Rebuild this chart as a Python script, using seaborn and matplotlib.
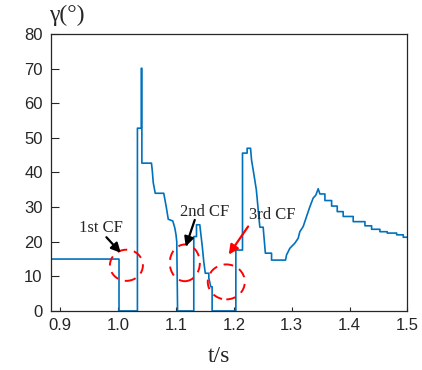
import matplotlib
matplotlib.use("Agg")
import matplotlib.pyplot as plt
from matplotlib.patches import Ellipse
import seaborn as sns

# gamma angle trace (t in s, gamma in degrees)
t = [0.88, 1.0015, 1.0015, 1.0333, 1.0333, 1.0399, 1.0399, 1.0410, 1.0410,
     1.0576, 1.0590, 1.0607, 1.0641, 1.0788, 1.0810, 1.0832, 1.0866, 1.0944,
     1.0979, 1.1000, 1.1013, 1.1027, 1.1307, 1.1307, 1.1354, 1.1354, 1.1411,
     1.1454, 1.1480, 1.1506, 1.1567, 1.1567, 1.1601, 1.1624, 1.1624, 1.2034,
     1.2034, 1.2149, 1.2149, 1.2229, 1.2229, 1.2288, 1.2305, 1.2333, 1.2388,
     1.2431, 1.2449, 1.2506, 1.2544, 1.2651, 1.2651, 1.2893, 1.2910, 1.2967,
     1.3054, 1.3111, 1.3140, 1.3198, 1.3256, 1.3313, 1.3370, 1.3417, 1.3457,
     1.3486, 1.3573, 1.3573, 1.3689, 1.3689, 1.3786, 1.3786, 1.3889, 1.3889,
     1.4062, 1.4062, 1.4265, 1.4265, 1.4380, 1.4380, 1.4524, 1.4524, 1.4650,
     1.4650, 1.4813, 1.4813, 1.4927, 1.4927, 1.5]
gamma = [15.0, 15.0, 0.0, 0.0, 52.8, 52.8, 70.1, 70.1, 42.7,
         42.7, 40.5, 37.0, 34.0, 34.0, 32.0, 30.0, 26.5, 26.0,
         24.0, 22.0, 20.0, 0.0, 0.0, 21.5, 21.5, 24.9, 24.9,
         18.6, 14.2, 10.9, 10.9, 9.5, 7.0, 7.0, 0.0, 0.0,
         17.6, 17.6, 45.6, 45.6, 47.0, 47.0, 43.6, 40.8, 35.0,
         27.3, 24.2, 24.2, 16.7, 16.7, 14.7, 14.7, 16.2, 18.1,
         19.6, 21.0, 22.9, 24.4, 27.3, 30.1, 32.6, 33.5, 35.3,
         33.8, 33.8, 31.9, 31.9, 30.3, 30.3, 28.7, 28.7, 27.3,
         27.3, 25.8, 25.8, 24.6, 24.6, 23.6, 23.6, 22.9, 22.9,
         22.5, 22.5, 22.0, 22.0, 21.3, 21.3]

# commutation failure markers: label, text pos, arrow tail, arrow head, circle (center, w, h), colour
cf_labels = ["1st CF", "2nd CF", "3rd CF"]
cf_text_xy = [(0.970, 24.0), (1.1498, 28.6), (1.2665, 27.7)]
cf_arrow_from = [(0.9797, 21.3), (1.1324, 26.3), (1.2246, 24.4)]
cf_arrow_to = [(1.0045, 16.8), (1.1168, 18.6), (1.1912, 16.3)]
cf_circle_xy = [(1.0143, 13.2), (1.1152, 13.9), (1.1869, 8.4)]
cf_circle_w = [0.057, 0.052, 0.064]
cf_circle_h = [9.0, 10.6, 10.1]
cf_arrow_color = ["black", "black", "red"]

x_ticks = [0.9, 1.0, 1.1, 1.2, 1.3, 1.4, 1.5]
y_ticks = [0, 10, 20, 30, 40, 50, 60, 70, 80]

serif = ["Liberation Serif", "DejaVu Serif"]

sns.set_style("ticks", {"xtick.direction": "in", "ytick.direction": "in"})
plt.rcParams["font.family"] = ["Liberation Sans", "DejaVu Sans"]

fig = plt.figure(figsize=(4.22, 3.70), dpi=100)
ax = fig.add_axes([0.1209, 0.1595, 0.8447, 0.7486])

sns.lineplot(x=t, y=gamma, sort=False, estimator=None, color="#0072BD",
             linewidth=1.2, ax=ax)

for (cx, cy), w, h in zip(cf_circle_xy, cf_circle_w, cf_circle_h):
    ax.add_patch(Ellipse((cx, cy), w, h, fill=False, edgecolor="red",
                         linewidth=1.4, linestyle=(0, (5, 3.5)), zorder=4))

for lab, txy, a0, a1, col in zip(cf_labels, cf_text_xy, cf_arrow_from,
                                 cf_arrow_to, cf_arrow_color):
    ax.text(txy[0], txy[1], lab, ha="center", va="center", fontsize=12,
            family=serif, zorder=5)
    ax.annotate("", xy=a1, xytext=a0,
                arrowprops=dict(arrowstyle="-|>", color=col, lw=1.6,
                                mutation_scale=14, shrinkA=0, shrinkB=0),
                zorder=5)

ax.set_xlim(0.884, 1.5)
ax.set_ylim(0, 80)
ax.set_xticks(x_ticks)
ax.set_xticklabels([f"{v:.1f}" for v in x_ticks])
ax.set_yticks(y_ticks)
ax.tick_params(axis="both", labelsize=12, colors="#262626", width=0.8)
ax.tick_params(axis="y", length=6, pad=6)
ax.tick_params(axis="x", length=3, pad=5)
for s in ax.spines.values():
    s.set_visible(True)
    s.set_color("#262626")
    s.set_linewidth(0.9)

ax.set_xlabel("t/s", fontsize=17, family=serif)
ax.xaxis.set_label_coords(0.47, -0.125)
ax.set_ylabel("")
fig.text(66.5 / 422, 1 - 15 / 370, "γ(°)", ha="center", va="center",
         fontsize=17, family=serif)

fig.savefig("out.png", dpi=100)
plt.close(fig)
